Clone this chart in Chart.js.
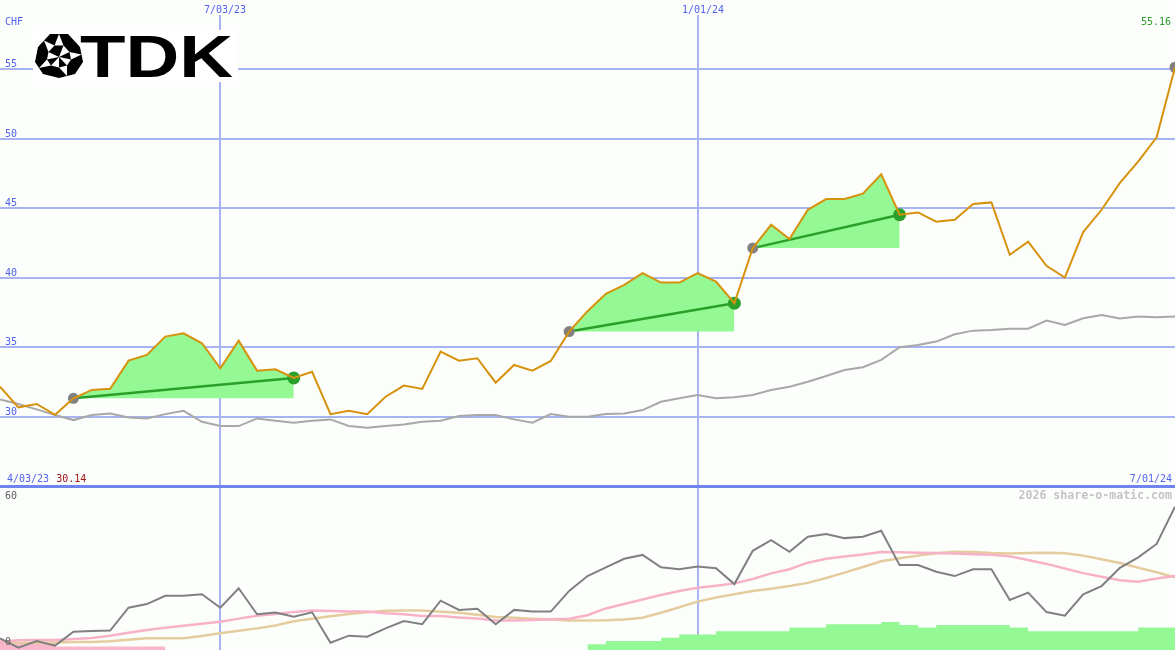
<!DOCTYPE html>
<html><head><meta charset="utf-8">
<script src="https://cdn.jsdelivr.net/npm/chart.js@4.4.1/dist/chart.umd.min.js"></script>
<style>html,body{margin:0;padding:0;background:#fcfefc;overflow:hidden}#wrap{position:relative;width:1175px;height:650px}</style>
</head><body><div id="wrap"><canvas id="c" width="1175" height="650"></canvas></div>
<script>
// ---- data (weekly closes, CHF) ----
const price = [32.16, 30.68, 30.92, 30.14, 31.33, 31.93, 32.02, 34.04, 34.45, 35.77,
  36.01, 35.29, 33.49, 35.48, 33.32, 33.42, 32.79, 33.24, 30.19, 30.43,
  30.19, 31.44, 32.24, 32.00, 34.69, 34.04, 34.21, 32.45, 33.73, 33.32,
  34.02, 36.13, 37.60, 38.85, 39.50, 40.34, 39.66, 39.66, 40.34, 39.73,
  38.17, 42.14, 43.82, 42.79, 44.90, 45.67, 45.67, 46.06, 47.45, 44.54,
  44.71, 44.04, 44.18, 45.31, 45.43, 41.66, 42.60, 40.87, 40.02, 43.29,
  44.90, 46.83, 48.39, 50.12, 55.16];
const priceMA = [31.25, 30.92, 30.53, 30.12, 29.76, 30.12, 30.24, 29.95, 29.88, 30.19,
  30.43, 29.64, 29.33, 29.33, 29.88, 29.71, 29.57, 29.71, 29.81, 29.33,
  29.21, 29.33, 29.45, 29.64, 29.71, 30.05, 30.12, 30.12, 29.81, 29.57,
  30.19, 30.00, 30.00, 30.19, 30.24, 30.48, 31.08, 31.33, 31.56, 31.33,
  31.40, 31.56, 31.92, 32.16, 32.52, 32.93, 33.37, 33.56, 34.09, 35.00,
  35.17, 35.41, 35.94, 36.20, 36.25, 36.34, 36.34, 36.92, 36.61, 37.09,
  37.33, 37.07, 37.21, 37.17, 37.21];
const momentum = [1.5, -2.3, 0.4, -1.5, 4.2, 4.5, 4.7, 14.1, 15.6, 19.0,
  19.0, 19.6, 14.1, 22.1, 11.4, 12.1, 10.4, 12.2, -0.3, 2.6,
  2.2, 5.6, 8.6, 7.3, 17.0, 13.2, 13.7, 7.3, 13.2, 12.5,
  12.5, 21.0, 27.1, 30.7, 34.2, 35.8, 30.7, 29.9, 31.0, 30.3,
  23.8, 37.5, 41.9, 37.1, 43.3, 44.4, 42.7, 43.3, 45.7, 31.6,
  31.6, 28.9, 27.1, 29.9, 29.9, 17.3, 20.3, 12.3, 10.8, 19.6,
  23.0, 30.5, 34.8, 40.3, 55.6];
const momFast = [0.1, 0.7, 0.8, 0.8, 1.2, 1.6, 2.6, 3.8, 4.9, 5.9,
  6.7, 7.5, 8.3, 9.6, 10.8, 11.5, 12.3, 12.9, 12.7, 12.5,
  12.5, 11.8, 11.4, 10.7, 10.7, 10.1, 9.7, 8.8, 8.8, 9.0,
  9.3, 9.6, 11.0, 13.8, 15.6, 17.5, 19.3, 21.0, 22.3, 23.1,
  24.1, 25.9, 28.2, 29.9, 32.6, 34.2, 35.1, 36.0, 37.0, 36.9,
  36.7, 36.6, 36.4, 36.1, 35.9, 35.2, 33.7, 32.1, 30.2, 28.3,
  26.8, 25.4, 24.8, 26.1, 27.1];
const momSlow = [0.1, -0.2, -0.3, -0.2, 0.0, 0.0, 0.3, 0.9, 1.5, 1.5,
  1.5, 2.5, 3.6, 4.6, 5.6, 6.8, 8.5, 9.6, 10.6, 11.5,
  12.2, 12.8, 12.9, 12.9, 12.4, 12.0, 11.2, 10.3, 10.0, 9.6,
  9.2, 8.8, 8.8, 8.9, 9.2, 10.0, 12.0, 14.3, 16.6, 18.3,
  19.6, 21.0, 21.9, 23.0, 24.3, 26.3, 28.5, 30.8, 33.2, 34.4,
  35.5, 36.5, 37.1, 37.0, 36.6, 36.4, 36.6, 36.7, 36.5, 35.5,
  34.0, 32.5, 30.5, 28.7, 26.6];
const barUp = [null, null, null, null, null, null, null, null, null, null,
  null, null, null, null, null, null, null, null, null, null,
  null, null, null, null, null, null, null, null, null, null,
  null, null, 0.8, 1.8, 2.8, 2.8, 2.8, 3.8, 4.8, 4.8,
  5.8, 5.8, 5.8, 5.8, 6.9, 6.9, 7.9, 7.9, 7.9, 8.6,
  7.7, 6.9, 7.7, 7.7, 7.7, 7.7, 6.9, 5.8, 5.8, 5.8,
  5.8, 5.8, 5.8, 6.9, 6.9];
const barDown = [2.2, 2.2, 2.2, 2.2, 1.1, 1.1, 1.1, 1.1, 1.1, 1.1];
const trendStart = [4, 31, 41];
const trendEnd = [16, 40, 49];
const dateTickIdx = [12, 38];
const dateTickLabels = ['7/03/23', '1/01/24'];
const priceTicks = [30, 35, 40, 45, 50, 55];
const separatorValue = 25;
const momTicks = [0, 60];
const firstDate = '4/03/23';
const lastDate = '7/01/24';
const currency = 'CHF';
const copyright = '2026 share-o-matic.com';

// ---- helpers ----
const pts = (arr, from = 0, to = arr.length - 1) => {
  const out = [];
  for (let i = from; i <= to; i++) if (arr[i] !== null && arr[i] !== undefined) out.push({x: i, y: arr[i]});
  return out;
};
const BG = '#fcfefc';
const BLUE = '#5262f0';
const GRID = '#a8b4f2';
const SEP = '#7084f0';
const FILL = '#94f894';
const TREND = '#2aa02a';

const datasets = [];
datasets.push({data: pts(barDown), yAxisID: 'y3', stepped: 'after', fill: 'origin', backgroundColor: '#f8b8ca', borderWidth: 0, pointRadius: 0, order: 20});
datasets.push({data: pts(barUp), yAxisID: 'y3', stepped: 'after', fill: 'origin', backgroundColor: FILL, borderWidth: 0, pointRadius: 0, order: 20});
datasets.push({data: pts(momSlow), yAxisID: 'y2', borderColor: '#e4cc9e', borderWidth: 2.5, pointRadius: 0, fill: false, order: 19});
datasets.push({data: pts(momFast), yAxisID: 'y2', borderColor: '#f8b2c8', borderWidth: 2.5, pointRadius: 0, fill: false, order: 18});
datasets.push({data: pts(momentum), yAxisID: 'y2', borderColor: '#808080', borderWidth: 2, pointRadius: 0, fill: false, order: 17});
trendStart.forEach((s, k) => {
  datasets.push({data: pts(price, s, trendEnd[k]), yAxisID: 'y', fill: {value: price[s]}, backgroundColor: FILL, borderWidth: 0, pointRadius: 0, order: 16});
});
datasets.push({data: pts(priceMA), yAxisID: 'y', borderColor: '#a8a8a8', borderWidth: 2, pointRadius: 0, fill: false, order: 15});
trendStart.forEach((s, k) => {
  const e = trendEnd[k];
  datasets.push({data: [{x: s, y: price[s]}, {x: e, y: price[e]}], yAxisID: 'y', borderColor: TREND, borderWidth: 2.5, pointRadius: 0, fill: false, order: 14});
});
datasets.push({data: trendStart.map(s => ({x: s, y: price[s]})).concat([{x: price.length - 1, y: price[price.length - 1]}]), yAxisID: 'y', showLine: false, pointRadius: 5.5, pointBackgroundColor: '#808080', pointBorderWidth: 0, order: 13});
datasets.push({data: trendEnd.map(e => ({x: e, y: price[e]})), yAxisID: 'y', showLine: false, pointRadius: 6.5, pointBackgroundColor: TREND, pointBorderWidth: 0, order: 13});
datasets.push({data: pts(price), yAxisID: 'y', borderColor: '#d6920c', borderWidth: 2, pointRadius: 0, fill: false, order: 1});

function drawLogo(ctx) {
  ctx.fillStyle = '#ffffff';
  ctx.fillRect(33, 30, 205, 52);
  const V = [[50,34],[68,34],[80,47],[83,62],[75,74],[59,78],[43,74],[35,62],[38,47]];
  const O = [59,57];
  ctx.fillStyle = '#000';
  ctx.beginPath(); V.forEach((p,i)=> i ? ctx.lineTo(p[0],p[1]) : ctx.moveTo(p[0],p[1])); ctx.closePath(); ctx.fill();
  const mid = (a,b)=>[(a[0]+b[0])/2,(a[1]+b[1])/2];
  ctx.fillStyle = '#fff';
  for (let i = 0; i < V.length; i++) {
    const a = V[i], b = V[(i+1)%V.length];
    const m1 = mid(a,b), m2 = mid(b,O), m3 = mid(O,a);
    ctx.beginPath();
    if (i % 2 === 0) { ctx.moveTo(m1[0],m1[1]); ctx.lineTo(m2[0],m2[1]); ctx.lineTo(m3[0],m3[1]); }
    else { ctx.moveTo(O[0],O[1]); ctx.lineTo(m2[0],m2[1]); ctx.lineTo(m3[0],m3[1]); }
    ctx.closePath(); ctx.fill();
  }
  ctx.fillStyle = '#000';
  ctx.font = 'bold 59px "Liberation Sans", Arial, sans-serif';
  ctx.textBaseline = 'alphabetic';
  ctx.textAlign = 'left';
  const w = ctx.measureText('TDK').width;
  ctx.save();
  ctx.translate(80, 77);
  ctx.scale(153 / w, 1);
  ctx.fillText('TDK', 0, 0);
  ctx.restore();
}

const overlay = {
  id: 'overlay',
  beforeDatasetsDraw(chart) {
    const ctx = chart.ctx;
    ctx.save();
    ctx.fillStyle = BG;
    ctx.fillRect(0, 0, chart.width, 15);
    drawLogo(ctx);
    ctx.restore();
  },
  afterDatasetsDraw(chart) {
    const {ctx} = chart;
    const {x, y, y2} = chart.scales;
    ctx.save();
    ctx.font = '10px "DejaVu Sans Mono", monospace';
    ctx.textBaseline = 'alphabetic';
    ctx.textAlign = 'left';
    ctx.fillStyle = BLUE;
    ctx.fillText(currency, 5, 25);
    priceTicks.forEach(v => ctx.fillText(String(v), 5, Math.round(y.getPixelForValue(v)) - 2));
    dateTickIdx.forEach((v, i) => ctx.fillText(dateTickLabels[i], Math.round(x.getPixelForValue(v)) - 16, 13));
    const sepY = Math.round(y.getPixelForValue(separatorValue));
    ctx.fillText(firstDate, 7, sepY - 4);
    const fw = ctx.measureText(firstDate).width;
    ctx.fillStyle = '#a01414';
    ctx.fillText(Math.min(...price).toFixed(2), 7 + fw + 7, sepY - 4);
    ctx.textAlign = 'right';
    ctx.fillStyle = BLUE;
    ctx.fillText(lastDate, 1172, sepY - 4);
    ctx.fillStyle = '#2e9a2e';
    ctx.fillText(price[price.length - 1].toFixed(2), 1171, 25);
    ctx.font = 'bold 11.6px "DejaVu Sans Mono", monospace';
    ctx.fillStyle = '#c4c4c4';
    ctx.fillText(copyright, 1172, sepY + 13);
    ctx.font = '10px "DejaVu Sans Mono", monospace';
    ctx.textAlign = 'left';
    ctx.textBaseline = 'middle';
    ctx.fillStyle = '#606060';
    momTicks.forEach(v => ctx.fillText(String(v), 5, Math.round(y2.getPixelForValue(v))));
    ctx.restore();
  }
};

new Chart(document.getElementById('c'), {
  type: 'line',
  data: {datasets},
  options: {
    responsive: false, animation: false, devicePixelRatio: 1,
    layout: {padding: 0, autoPadding: false},
    elements: {line: {tension: 0}},
    plugins: {legend: {display: false}, tooltip: {enabled: false}},
    scales: {
      x: {type: 'linear', min: 0, max: price.length - 1, display: true,
        ticks: {display: false}, border: {display: false},
        grid: {drawTicks: false, color: GRID, lineWidth: 2},
        afterBuildTicks: s => { s.ticks = dateTickIdx.map(v => ({value: v})); }},
      y: {type: 'linear', min: 13.21, max: 60, position: 'left', display: true,
        ticks: {display: false}, border: {display: false},
        grid: {drawTicks: false,
          color: c => c.tick && c.tick.value === separatorValue ? SEP : GRID,
          lineWidth: c => c.tick && c.tick.value === separatorValue ? 3 : 2},
        afterBuildTicks: s => { s.ticks = [separatorValue].concat(priceTicks).map(v => ({value: v})); }},
      y2: {type: 'linear', min: -3.29, max: 263.9, display: false},
      y3: {type: 'linear', min: 0, max: 200, display: false}
    }
  },
  plugins: [overlay]
});
</script>
</body></html>
